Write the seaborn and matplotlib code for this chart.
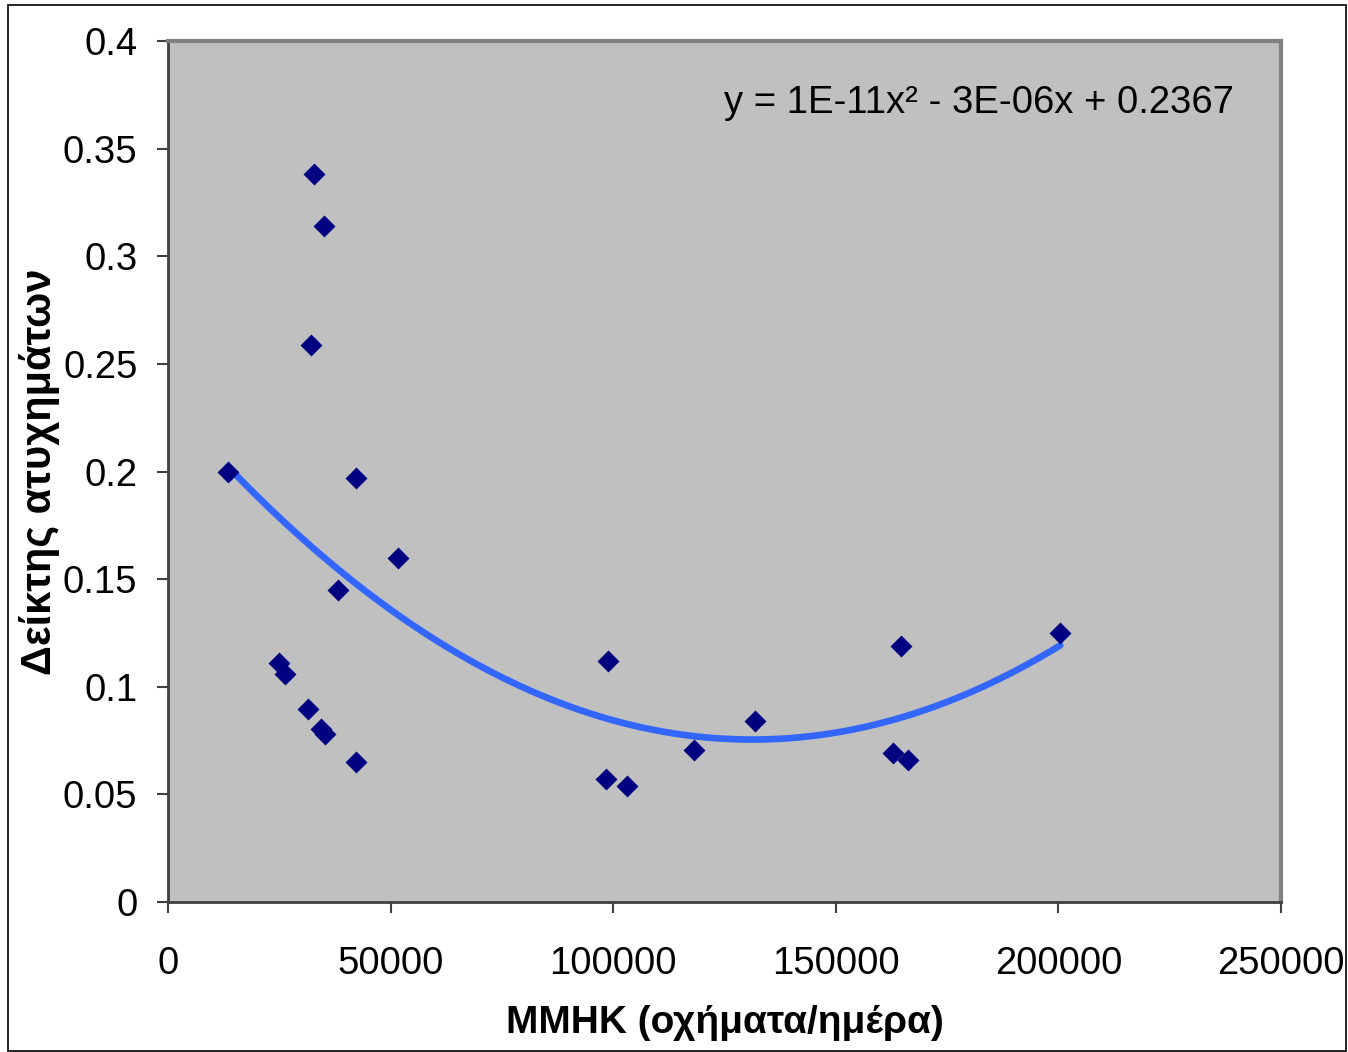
import numpy as np
import pandas as pd
import matplotlib
matplotlib.use("Agg")
import matplotlib.pyplot as plt
import seaborn as sns

# data
traffic = [13500, 32800, 35000, 32100, 42200, 51700, 38200, 24900, 26300, 31400,
           34400, 35300, 42200, 98800, 98400, 103100, 118100, 131800, 164600,
           162800, 166200, 200400]
accident_rate = [0.200, 0.338, 0.314, 0.259, 0.197, 0.160, 0.145, 0.111, 0.106, 0.0897,
                 0.0804, 0.078, 0.065, 0.112, 0.057, 0.054, 0.0706, 0.084, 0.119,
                 0.069, 0.066, 0.125]
x_ticks = [0, 50000, 100000, 150000, 200000, 250000]
y_ticks = [0, 0.05, 0.1, 0.15, 0.2, 0.25, 0.3, 0.35, 0.4]
y_tick_labels = ["0", "0.05", "0.1", "0.15", "0.2", "0.25", "0.3", "0.35", "0.4"]
equation = "y = 1E-11x² - 3E-06x + 0.2367"
x_label = "MMHK (οχήματα/ημέρα)"
y_label = "Δείκτης ατυχημάτων"

df = pd.DataFrame({"x": traffic, "y": accident_rate})

sns.set_style("white")
plt.rcParams["font.family"] = ["Liberation Sans", "DejaVu Sans"]
plt.rcParams["text.color"] = "black"
plt.rcParams["axes.labelcolor"] = "black"
plt.rcParams["xtick.color"] = "black"
plt.rcParams["ytick.color"] = "black"

fig = plt.figure(figsize=(13.48, 10.52), dpi=100)
ax = fig.add_axes([0.1246, 0.1426, 0.8257, 0.8184])
ax.set_facecolor("#C0C0C0")

# second order trend line
sns.regplot(data=df, x="x", y="y", order=2, ci=None, scatter=False, truncate=True,
            line_kws={"color": "#3366FF", "lw": 4.8, "solid_capstyle": "round"}, ax=ax)
sns.scatterplot(data=df, x="x", y="y", marker="D", s=125, color="#000080",
                edgecolor="#000080", linewidth=0, ax=ax, zorder=3)

ax.set_xlim(0, 250000)
ax.set_ylim(0, 0.4)
ax.set_xticks(x_ticks)
ax.set_xticklabels([str(t) for t in x_ticks])
ax.set_yticks(y_ticks)
ax.set_yticklabels(y_tick_labels)
ax.tick_params(axis="both", labelsize=27.5, length=8, width=1.5, color="#404040",
               labelcolor="black", direction="out", left=True, bottom=True)
ax.tick_params(axis="x", pad=24)
ax.tick_params(axis="y", pad=14)

for side in ["top", "right"]:
    ax.spines[side].set_color("#808080")
    ax.spines[side].set_linewidth(3)
for side in ["left", "bottom"]:
    ax.spines[side].set_color("#404040")
    ax.spines[side].set_linewidth(2)

ax.set_xlabel(x_label, fontsize=28, fontweight="bold", labelpad=16)
ax.set_ylabel(y_label, fontsize=30, fontweight="bold", labelpad=2)

ax.text(0.958, 0.928, equation, transform=ax.transAxes, ha="right", va="center",
        fontsize=27.5)

# outer chart border
fig.patches.append(plt.Rectangle((8 / 1348, 1 / 1052), 1338 / 1348, 1046 / 1052,
                                 transform=fig.transFigure, fill=False,
                                 edgecolor="black", linewidth=1.2))

fig.savefig("out.png", dpi=100)
